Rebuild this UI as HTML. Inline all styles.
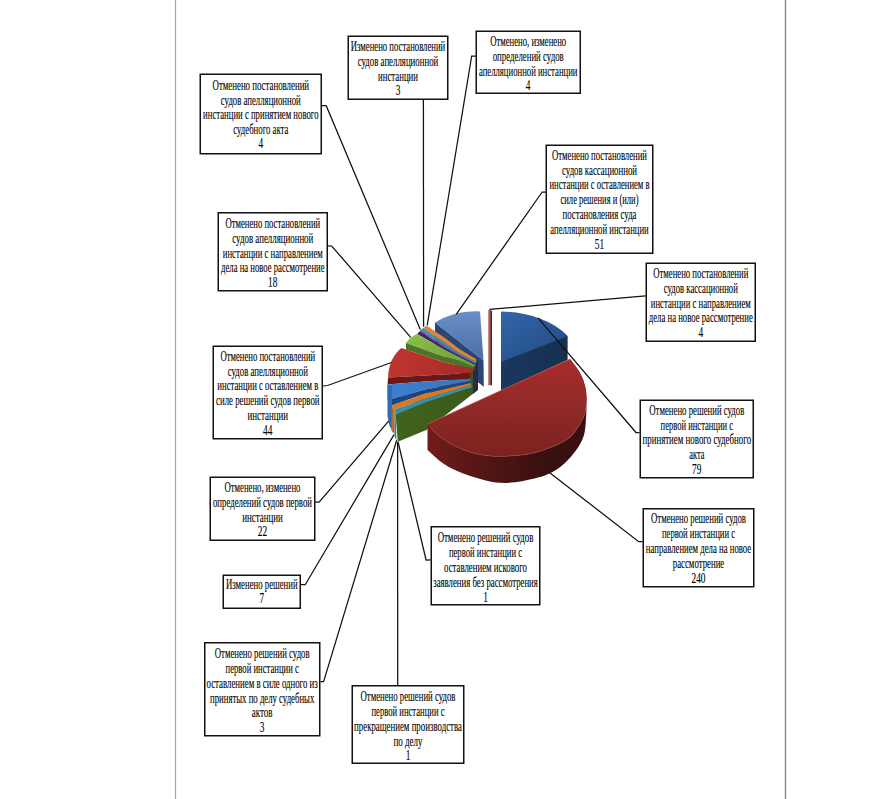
<!DOCTYPE html><html><head><meta charset="utf-8"><style>html,body{margin:0;padding:0;background:#fff;}svg{display:block;} text{font-family:"Liberation Serif",serif;font-size:13.8px;fill:#000;stroke:#000;stroke-width:0.12px;}</style></head><body>
<svg width="870" height="799" viewBox="0 0 870 799">
<defs>
<linearGradient id="gLB" x1="0" y1="0" x2="0" y2="1"><stop offset="0" stop-color="#6a8fc6"/><stop offset="1" stop-color="#4a6ca6"/></linearGradient>
<linearGradient id="gDB" x1="0" y1="0" x2="1" y2="1"><stop offset="0" stop-color="#3166a8"/><stop offset="1" stop-color="#234a80"/></linearGradient>
<linearGradient id="gDBS" x1="0" y1="0" x2="1" y2="0"><stop offset="0" stop-color="#1b3760"/><stop offset="1" stop-color="#16304f"/></linearGradient>
<linearGradient id="gG" x1="0" y1="0" x2="1" y2="1"><stop offset="0" stop-color="#8cc04a"/><stop offset="1" stop-color="#6e9e33"/></linearGradient>
<linearGradient id="gGF" x1="0" y1="0" x2="1" y2="0"><stop offset="0" stop-color="#41631c"/><stop offset="1" stop-color="#3a5a1a"/></linearGradient>
<linearGradient id="gR2" x1="0" y1="0" x2="1" y2="0"><stop offset="0" stop-color="#c0352f"/><stop offset="1" stop-color="#a52a27"/></linearGradient>
<linearGradient id="gB2" x1="0" y1="0" x2="1" y2="0"><stop offset="0" stop-color="#3e7fcf"/><stop offset="1" stop-color="#3a74bd"/></linearGradient>
<linearGradient id="gR" x1="0" y1="0" x2="0" y2="1"><stop offset="0" stop-color="#a82c2a"/><stop offset="0.45" stop-color="#922a28"/><stop offset="1" stop-color="#7c2220"/></linearGradient>
<linearGradient id="gRS" x1="0" y1="0" x2="1" y2="0"><stop offset="0" stop-color="#711d1b"/><stop offset="0.45" stop-color="#4a1413"/><stop offset="0.8" stop-color="#36100f"/><stop offset="1" stop-color="#3a1010"/></linearGradient>
</defs>
<rect x="0" y="0" width="870" height="799" fill="#fff"/>
<line x1="175.5" y1="0" x2="175.5" y2="799" stroke="#a8a8a8" stroke-width="1.2"/>
<line x1="785.5" y1="0" x2="785.5" y2="799" stroke="#888" stroke-width="1.4"/>
<polygon points="435.0,322.5 483.5,360.5 483.8,386.8 435.0,349.0" fill="#2a4674"/>
<path d="M435,322.5 Q456,310 480,311.5 L483.5,360.5 Z" fill="url(#gLB)"/>
<polygon points="488.3,310.0 490.2,310.0 490.2,385.3 488.3,385.3" fill="#b45a5a"/>
<polygon points="490.2,310.0 492.0,311.0 492.0,385.3 490.2,385.3" fill="#5a1c1c"/>
<polygon points="395.6,414.4 474.0,364.0 474.0,393.0 426.3,430.0 397.8,441.8" fill="url(#gGF)"/>
<polygon points="473.0,366.0 478.0,362.0 478.0,390.0 473.0,394.0" fill="#2b2848"/>
<polygon points="426.5,325.5 445.0,338.0 460.0,349.5 476.0,359.0 476.0,362.0 460.0,353.5 445.0,343.0 423.5,328.0" fill="#e4832f"/>
<polygon points="423.5,328.0 445.0,343.0 460.0,353.5 476.0,362.0 476.0,363.5 460.0,355.0 445.0,346.0 421.0,329.5" fill="#3b93aa"/>
<polygon points="421.0,329.5 445.0,346.0 460.0,355.0 476.0,363.5 476.0,364.3 460.0,356.3 445.0,348.0 420.0,331.0" fill="#7556a8"/>
<polygon points="420.0,331.0 445.0,348.0 460.0,356.3 476.0,364.3 476.0,365.5 460.0,357.5 445.0,350.0 417.0,334.0" fill="#3d2963"/>
<path d="M406,343 Q410,337 417,334 L445,350 L460,357.5 L476,365.5 L474,367 L460,361 L445,357 Z" fill="url(#gG)"/>
<polygon points="406.0,343.0 445.0,357.0 460.0,361.0 474.0,367.0 474.8,369.0 460.0,366.0 445.0,362.5 401.2,348.1 406.0,350.0" fill="#4d7424"/>
<path d="M388.1,377.5 C388.5,365 393,355 401.25,348.1 L445,362.5 L460,366 L474.8,369 L470.3,373 L425,375.5 Z" fill="url(#gR2)"/>
<polygon points="388.1,377.5 425.0,375.5 470.3,373.0 470.5,378.8 425.0,381.6 387.5,384.4" fill="#6c1817"/>
<polygon points="387.5,384.4 425.0,381.6 470.5,378.8 470.5,381.0 425.0,389.4 387.5,400.0" fill="url(#gB2)"/>
<polygon points="387.5,400.0 425.0,389.4 470.5,381.0 471.0,383.0 425.0,393.8 391.6,405.6" fill="#1d4580"/>
<polygon points="387.5,384.4 392.0,386.0 392.0,430.0 389.5,426.0 387.5,416.0" fill="#2f6ab5"/>
<polygon points="391.6,405.6 425.0,393.8 471.0,383.0 471.0,385.0 425.0,398.8 394.5,409.6" fill="#db7621"/>
<polygon points="391.6,405.6 394.5,409.6 394.5,433.8 391.6,431.0" fill="#c76a1e"/>
<polygon points="394.5,409.6 425.0,398.8 471.0,385.0 472.5,387.0 425.0,402.5 395.6,414.4" fill="#3a8ea5"/>
<polygon points="394.5,409.6 395.6,414.4 396.5,441.0 394.5,436.0" fill="#357f94"/>
<polygon points="501.0,356.0 560.0,334.0 567.6,336.0 567.6,360.0 501.0,391.0" fill="url(#gDBS)"/>
<path d="M501,362 L501,311.5 A80,51 0 0,1 567.6,336 Z" fill="url(#gDB)"/>
<path d="M570.0,359.0 C571.7,361.3 577.4,368.2 580.0,373.0 C582.6,377.8 584.4,382.8 585.5,388.0 C586.6,393.2 586.6,399.3 586.4,404.0 C586.1,408.7 585.4,412.2 584.0,416.0 C582.6,419.8 580.5,423.3 578.0,427.0 C575.5,430.7 573.4,434.7 569.0,438.0 C564.6,441.3 558.4,444.3 551.7,447.0 C545.0,449.7 537.3,452.4 528.7,454.0 C520.1,455.6 508.6,456.3 500.0,456.3 C491.4,456.3 484.5,455.7 477.0,454.0 C469.5,452.3 461.5,449.2 455.0,446.0 C448.5,442.8 442.6,438.7 438.0,435.0 C433.4,431.3 429.2,425.8 427.5,424.0 L427.5,450.0 C430.2,452.3 437.6,459.9 444.0,464.0 C450.4,468.1 456.7,471.3 466.0,474.4 C475.3,477.5 488.6,482.1 500.0,482.8 C511.4,483.5 524.9,480.8 534.5,478.5 C544.1,476.2 550.8,473.4 557.5,469.0 C564.2,464.6 570.3,457.7 574.7,452.0 C579.1,446.3 582.0,441.7 584.0,435.0 C586.0,428.3 586.0,415.8 586.4,412.0 L586.4,404 L570,359 Z" fill="url(#gRS)"/>
<path d="M570.0,359.0 C571.7,361.3 577.4,368.2 580.0,373.0 C582.6,377.8 584.4,382.8 585.5,388.0 C586.6,393.2 586.6,399.3 586.4,404.0 C586.1,408.7 585.4,412.2 584.0,416.0 C582.6,419.8 580.5,423.3 578.0,427.0 C575.5,430.7 573.4,434.7 569.0,438.0 C564.6,441.3 558.4,444.3 551.7,447.0 C545.0,449.7 537.3,452.4 528.7,454.0 C520.1,455.6 508.6,456.3 500.0,456.3 C491.4,456.3 484.5,455.7 477.0,454.0 C469.5,452.3 461.5,449.2 455.0,446.0 C448.5,442.8 442.6,438.7 438.0,435.0 C433.4,431.3 429.2,425.8 427.5,424.0 Z" fill="url(#gR)"/>
<path d="M427.5,424 L570,359" stroke="#c8605a" stroke-width="0.9" stroke-opacity="0.7" fill="none"/>
<path d="M586.4,404.0 C586.0,406.0 585.4,412.2 584.0,416.0 C582.6,419.8 580.5,423.3 578.0,427.0 C575.5,430.7 573.4,434.7 569.0,438.0 C564.6,441.3 558.4,444.3 551.7,447.0 C545.0,449.7 537.3,452.4 528.7,454.0 C520.1,455.6 508.6,456.3 500.0,456.3 C491.4,456.3 484.5,455.7 477.0,454.0 C469.5,452.3 461.5,449.2 455.0,446.0 C448.5,442.8 442.6,438.7 438.0,435.0 C433.4,431.3 429.2,425.8 427.5,424.0" stroke="#a8403c" stroke-width="0.8" stroke-opacity="0.6" fill="none"/>
<polyline points="322.0,105.7 326.2,105.7 420.3,329.5" fill="none" stroke="#111" stroke-width="1.25"/>
<polyline points="423.4,100.0 423.6,326.8" fill="none" stroke="#111" stroke-width="1.25"/>
<polyline points="475.8,56.0 471.7,56.0 427.2,325.4" fill="none" stroke="#111" stroke-width="1.25"/>
<polyline points="545.8,192.0 542.2,192.0 456.2,314.4" fill="none" stroke="#111" stroke-width="1.25"/>
<polyline points="645.6,295.9 489.4,309.4" fill="none" stroke="#111" stroke-width="1.25"/>
<polyline points="639.5,432.5 636.0,432.5 538.0,317.8" fill="none" stroke="#111" stroke-width="1.25"/>
<polyline points="642.7,541.7 638.7,541.7 549.4,472.4" fill="none" stroke="#111" stroke-width="1.25"/>
<polyline points="430.6,559.9 426.1,560.0 398.2,442.5" fill="none" stroke="#111" stroke-width="1.25"/>
<polyline points="397.7,685.0 397.6,441.8" fill="none" stroke="#111" stroke-width="1.25"/>
<polyline points="320.5,681.7 323.6,681.7 396.7,440.3" fill="none" stroke="#111" stroke-width="1.25"/>
<polyline points="300.8,584.7 305.2,584.7 394.0,434.6" fill="none" stroke="#111" stroke-width="1.25"/>
<polyline points="315.3,502.2 319.1,502.2 388.8,420.8" fill="none" stroke="#111" stroke-width="1.25"/>
<polyline points="322.8,386.0 327.6,385.5 391.5,362.5" fill="none" stroke="#111" stroke-width="1.25"/>
<polyline points="327.8,245.9 331.7,246.0 410.7,337.4" fill="none" stroke="#111" stroke-width="1.25"/>
<rect x="200.25" y="74.25" width="121.00" height="79.50" fill="#fff" stroke="#111" stroke-width="1.5"/>
<text x="260.8" y="90.4" text-anchor="middle" textLength="96.6" lengthAdjust="spacingAndGlyphs">Отменено постановлений</text>
<text x="260.8" y="104.8" text-anchor="middle" textLength="80" lengthAdjust="spacingAndGlyphs">судов апелляционной</text>
<text x="260.8" y="119.2" text-anchor="middle" textLength="115.5" lengthAdjust="spacingAndGlyphs">инстанции с принятием нового</text>
<text x="260.8" y="133.6" text-anchor="middle" textLength="55" lengthAdjust="spacingAndGlyphs">судебного акта</text>
<text x="260.8" y="148.0" text-anchor="middle" transform="translate(260.8,0) scale(0.68,1) translate(-260.8,0)">4</text>
<rect x="348.25" y="36.25" width="99.50" height="63.00" fill="#fff" stroke="#111" stroke-width="1.5"/>
<text x="398.0" y="51.0" text-anchor="middle" textLength="94.5" lengthAdjust="spacingAndGlyphs">Изменено постановлений</text>
<text x="398.0" y="65.8" text-anchor="middle" textLength="80.7" lengthAdjust="spacingAndGlyphs">судов апелляционной</text>
<text x="398.0" y="80.5" text-anchor="middle" textLength="40" lengthAdjust="spacingAndGlyphs">инстанции</text>
<text x="398.0" y="95.2" text-anchor="middle" transform="translate(398.0,0) scale(0.68,1) translate(-398.0,0)">3</text>
<rect x="476.25" y="31.25" width="104.00" height="62.00" fill="#fff" stroke="#111" stroke-width="1.5"/>
<text x="528.2" y="45.9" text-anchor="middle" textLength="76" lengthAdjust="spacingAndGlyphs">Отменено, изменено</text>
<text x="528.2" y="60.7" text-anchor="middle" textLength="71" lengthAdjust="spacingAndGlyphs">определений судов</text>
<text x="528.2" y="75.5" text-anchor="middle" textLength="98.6" lengthAdjust="spacingAndGlyphs">апелляционной инстанции</text>
<text x="528.2" y="90.3" text-anchor="middle" transform="translate(528.2,0) scale(0.68,1) translate(-528.2,0)">4</text>
<rect x="546.25" y="145.25" width="106.50" height="108.00" fill="#fff" stroke="#111" stroke-width="1.5"/>
<text x="599.5" y="159.7" text-anchor="middle" textLength="95" lengthAdjust="spacingAndGlyphs">Отменено постановлений</text>
<text x="599.5" y="174.5" text-anchor="middle" textLength="75" lengthAdjust="spacingAndGlyphs">судов кассационной</text>
<text x="599.5" y="189.3" text-anchor="middle" textLength="100" lengthAdjust="spacingAndGlyphs">инстанции с оставлением в</text>
<text x="599.5" y="204.1" text-anchor="middle" textLength="78" lengthAdjust="spacingAndGlyphs">силе решения и (или)</text>
<text x="599.5" y="219.0" text-anchor="middle" textLength="74" lengthAdjust="spacingAndGlyphs">постановления суда</text>
<text x="599.5" y="233.8" text-anchor="middle" textLength="98.5" lengthAdjust="spacingAndGlyphs">апелляционной инстанции</text>
<text x="599.5" y="248.6" text-anchor="middle" transform="translate(599.5,0) scale(0.68,1) translate(-599.5,0)">51</text>
<rect x="646.25" y="263.25" width="109.00" height="78.00" fill="#fff" stroke="#111" stroke-width="1.5"/>
<text x="700.8" y="278.1" text-anchor="middle" textLength="95" lengthAdjust="spacingAndGlyphs">Отменено постановлений</text>
<text x="700.8" y="292.8" text-anchor="middle" textLength="74" lengthAdjust="spacingAndGlyphs">судов кассационной</text>
<text x="700.8" y="307.6" text-anchor="middle" textLength="100" lengthAdjust="spacingAndGlyphs">инстанции с направлением</text>
<text x="700.8" y="322.3" text-anchor="middle" textLength="104" lengthAdjust="spacingAndGlyphs">дела на новое рассмотрение</text>
<text x="700.8" y="337.1" text-anchor="middle" transform="translate(700.8,0) scale(0.68,1) translate(-700.8,0)">4</text>
<rect x="640.25" y="400.25" width="113.00" height="77.50" fill="#fff" stroke="#111" stroke-width="1.5"/>
<text x="696.8" y="415.0" text-anchor="middle" textLength="95" lengthAdjust="spacingAndGlyphs">Отменено решений судов</text>
<text x="696.8" y="429.7" text-anchor="middle" textLength="72.4" lengthAdjust="spacingAndGlyphs">первой инстанции с</text>
<text x="696.8" y="444.3" text-anchor="middle" textLength="108.6" lengthAdjust="spacingAndGlyphs">принятием нового судебного</text>
<text x="696.8" y="459.0" text-anchor="middle" textLength="15.3" lengthAdjust="spacingAndGlyphs">акта</text>
<text x="696.8" y="473.7" text-anchor="middle" transform="translate(696.8,0) scale(0.68,1) translate(-696.8,0)">79</text>
<rect x="643.25" y="508.75" width="110.50" height="78.00" fill="#fff" stroke="#111" stroke-width="1.5"/>
<text x="698.5" y="523.4" text-anchor="middle" textLength="95" lengthAdjust="spacingAndGlyphs">Отменено решений судов</text>
<text x="698.5" y="538.3" text-anchor="middle" textLength="73" lengthAdjust="spacingAndGlyphs">первой инстанции с</text>
<text x="698.5" y="553.2" text-anchor="middle" textLength="105.4" lengthAdjust="spacingAndGlyphs">направлением дела на новое</text>
<text x="698.5" y="568.1" text-anchor="middle" textLength="51.5" lengthAdjust="spacingAndGlyphs">рассмотрение</text>
<text x="698.5" y="583.0" text-anchor="middle" transform="translate(698.5,0) scale(0.68,1) translate(-698.5,0)">240</text>
<rect x="431.25" y="526.75" width="108.50" height="78.00" fill="#fff" stroke="#111" stroke-width="1.5"/>
<text x="485.5" y="541.5" text-anchor="middle" textLength="95.7" lengthAdjust="spacingAndGlyphs">Отменено решений судов</text>
<text x="485.5" y="556.6" text-anchor="middle" textLength="73.2" lengthAdjust="spacingAndGlyphs">первой инстанции с</text>
<text x="485.5" y="571.6" text-anchor="middle" textLength="82.9" lengthAdjust="spacingAndGlyphs">оставлением искового</text>
<text x="485.5" y="586.7" text-anchor="middle" textLength="104.6" lengthAdjust="spacingAndGlyphs">заявления без рассмотрения</text>
<text x="485.5" y="601.7" text-anchor="middle" transform="translate(485.5,0) scale(0.68,1) translate(-485.5,0)">1</text>
<rect x="352.25" y="685.75" width="111.50" height="77.50" fill="#fff" stroke="#111" stroke-width="1.5"/>
<text x="408.0" y="701.2" text-anchor="middle" textLength="95" lengthAdjust="spacingAndGlyphs">Отменено решений судов</text>
<text x="408.0" y="716.0" text-anchor="middle" textLength="73" lengthAdjust="spacingAndGlyphs">первой инстанции с</text>
<text x="408.0" y="730.8" text-anchor="middle" textLength="107.8" lengthAdjust="spacingAndGlyphs">прекращением производства</text>
<text x="408.0" y="745.6" text-anchor="middle" textLength="29" lengthAdjust="spacingAndGlyphs">по делу</text>
<text x="408.0" y="760.4" text-anchor="middle" transform="translate(408.0,0) scale(0.68,1) translate(-408.0,0)">1</text>
<rect x="204.75" y="642.75" width="115.00" height="93.00" fill="#fff" stroke="#111" stroke-width="1.5"/>
<text x="262.2" y="658.4" text-anchor="middle" textLength="94.8" lengthAdjust="spacingAndGlyphs">Отменено решений судов</text>
<text x="262.2" y="673.1" text-anchor="middle" textLength="73.3" lengthAdjust="spacingAndGlyphs">первой инстанции с</text>
<text x="262.2" y="687.8" text-anchor="middle" textLength="111.2" lengthAdjust="spacingAndGlyphs">оставлением в силе одного из</text>
<text x="262.2" y="702.6" text-anchor="middle" textLength="104.3" lengthAdjust="spacingAndGlyphs">принятых по делу судебных</text>
<text x="262.2" y="717.3" text-anchor="middle" textLength="20.7" lengthAdjust="spacingAndGlyphs">актов</text>
<text x="262.2" y="732.0" text-anchor="middle" transform="translate(262.2,0) scale(0.68,1) translate(-262.2,0)">3</text>
<rect x="223.25" y="575.25" width="77.00" height="33.00" fill="#fff" stroke="#111" stroke-width="1.5"/>
<text x="261.8" y="588.7" text-anchor="middle" textLength="71.7" lengthAdjust="spacingAndGlyphs">Изменено решений</text>
<text x="261.8" y="603.1" text-anchor="middle" transform="translate(261.8,0) scale(0.68,1) translate(-261.8,0)">7</text>
<rect x="210.25" y="477.25" width="104.50" height="63.00" fill="#fff" stroke="#111" stroke-width="1.5"/>
<text x="262.5" y="492.4" text-anchor="middle" textLength="75.9" lengthAdjust="spacingAndGlyphs">Отменено, изменено</text>
<text x="262.5" y="507.1" text-anchor="middle" textLength="99.1" lengthAdjust="spacingAndGlyphs">определений судов первой</text>
<text x="262.5" y="521.8" text-anchor="middle" textLength="40.5" lengthAdjust="spacingAndGlyphs">инстанции</text>
<text x="262.5" y="536.4" text-anchor="middle" transform="translate(262.5,0) scale(0.68,1) translate(-262.5,0)">22</text>
<rect x="213.25" y="346.25" width="109.00" height="92.50" fill="#fff" stroke="#111" stroke-width="1.5"/>
<text x="267.8" y="360.6" text-anchor="middle" textLength="94.8" lengthAdjust="spacingAndGlyphs">Отменено постановлений</text>
<text x="267.8" y="375.5" text-anchor="middle" textLength="80.2" lengthAdjust="spacingAndGlyphs">судов апелляционной</text>
<text x="267.8" y="390.4" text-anchor="middle" textLength="100.9" lengthAdjust="spacingAndGlyphs">инстанции с оставлением в</text>
<text x="267.8" y="405.2" text-anchor="middle" textLength="103.4" lengthAdjust="spacingAndGlyphs">силе решений судов первой</text>
<text x="267.8" y="420.1" text-anchor="middle" textLength="40.5" lengthAdjust="spacingAndGlyphs">инстанции</text>
<text x="267.8" y="435.0" text-anchor="middle" transform="translate(267.8,0) scale(0.68,1) translate(-267.8,0)">44</text>
<rect x="218.25" y="212.75" width="109.00" height="78.00" fill="#fff" stroke="#111" stroke-width="1.5"/>
<text x="272.8" y="228.3" text-anchor="middle" textLength="94.8" lengthAdjust="spacingAndGlyphs">Отменено постановлений</text>
<text x="272.8" y="243.0" text-anchor="middle" textLength="81" lengthAdjust="spacingAndGlyphs">судов апелляционной</text>
<text x="272.8" y="257.6" text-anchor="middle" textLength="100" lengthAdjust="spacingAndGlyphs">инстанции с направлением</text>
<text x="272.8" y="272.3" text-anchor="middle" textLength="103.4" lengthAdjust="spacingAndGlyphs">дела на новое рассмотрение</text>
<text x="272.8" y="286.9" text-anchor="middle" transform="translate(272.8,0) scale(0.68,1) translate(-272.8,0)">18</text>
</svg></body></html>
